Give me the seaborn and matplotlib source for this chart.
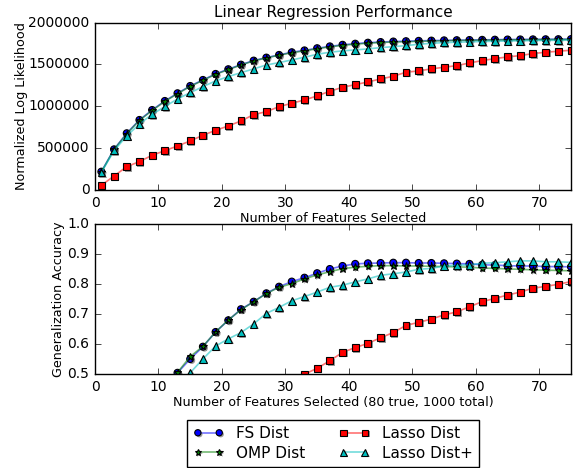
import matplotlib
matplotlib.use("Agg")
import matplotlib.pyplot as plt
import matplotlib.patheffects as pe
from matplotlib.legend_handler import HandlerTuple
import seaborn as sns

plt.style.use("classic")
plt.rcParams["axes.formatter.limits"] = (-9, 9)
plt.rcParams["font.family"] = ["DejaVu Sans"]

n_features = [1, 3, 5, 7, 9, 11, 13, 15, 17, 19, 21, 23, 25, 27, 29, 31, 33, 35, 37,
              39, 41, 43, 45, 47, 49, 51, 53, 55, 57, 59, 61, 63, 65, 67, 69, 71, 73, 75]

# Normalized log likelihood (top panel)
fs_ll = [219e3, 486e3, 678e3, 837e3, 956e3, 1064e3, 1156e3, 1243e3, 1315e3, 1387e3,
         1443e3, 1498e3, 1546e3, 1582e3, 1614e3, 1646e3, 1668e3, 1694e3, 1716e3, 1735e3,
         1748e3, 1760e3, 1768e3, 1774e3, 1778e3, 1782e3, 1785e3, 1788e3, 1790e3, 1792e3,
         1794e3, 1796e3, 1798e3, 1799e3, 1800e3, 1801e3, 1802e3, 1803e3]
omp_ll = [215e3, 484e3, 672e3, 832e3, 950e3, 1058e3, 1150e3, 1238e3, 1310e3, 1382e3,
          1438e3, 1494e3, 1542e3, 1578e3, 1610e3, 1640e3, 1662e3, 1688e3, 1710e3, 1729e3,
          1742e3, 1754e3, 1762e3, 1768e3, 1772e3, 1776e3, 1780e3, 1783e3, 1786e3, 1788e3,
          1790e3, 1792e3, 1794e3, 1795e3, 1796e3, 1797e3, 1798e3, 1799e3]
lasso_ll = [56e3, 167e3, 279e3, 339e3, 415e3, 470e3, 526e3, 586e3, 654e3, 713e3,
            765e3, 825e3, 901e3, 936e3, 996e3, 1036e3, 1076e3, 1124e3, 1180e3, 1227e3,
            1259e3, 1291e3, 1327e3, 1359e3, 1407e3, 1423e3, 1447e3, 1467e3, 1486e3, 1518e3,
            1546e3, 1570e3, 1590e3, 1606e3, 1630e3, 1646e3, 1658e3, 1670e3]
lassop_ll = [210e3, 470e3, 646e3, 789e3, 905e3, 996e3, 1088e3, 1163e3, 1235e3, 1303e3,
             1355e3, 1402e3, 1447e3, 1494e3, 1522e3, 1554e3, 1586e3, 1622e3, 1646e3, 1662e3,
             1674e3, 1686e3, 1701e3, 1713e3, 1725e3, 1741e3, 1753e3, 1761e3, 1765e3, 1770e3,
             1774e3, 1777e3, 1780e3, 1783e3, 1785e3, 1787e3, 1789e3, 1790e3]

# Generalization accuracy (bottom panel)
fs_acc = [0.25, 0.30, 0.35, 0.39, 0.43, 0.47, 0.504, 0.55, 0.591, 0.64,
          0.679, 0.716, 0.741, 0.769, 0.791, 0.808, 0.821, 0.836, 0.85, 0.86,
          0.867, 0.869, 0.87, 0.871, 0.871, 0.87, 0.87, 0.869, 0.868, 0.867,
          0.864, 0.863, 0.861, 0.86, 0.86, 0.858, 0.858, 0.857]
omp_acc = [0.25, 0.30, 0.35, 0.39, 0.43, 0.47, 0.505, 0.558, 0.592, 0.64,
           0.68, 0.714, 0.741, 0.768, 0.789, 0.801, 0.817, 0.83, 0.841, 0.851,
           0.856, 0.859, 0.861, 0.861, 0.86, 0.86, 0.859, 0.858, 0.857, 0.856,
           0.853, 0.852, 0.85, 0.849, 0.847, 0.846, 0.845, 0.844]
lasso_acc = [0.10, 0.13, 0.15, 0.17, 0.19, 0.22, 0.24, 0.27, 0.29, 0.32,
             0.35, 0.37, 0.40, 0.43, 0.45, 0.475, 0.499, 0.519, 0.544, 0.572,
             0.588, 0.602, 0.621, 0.638, 0.662, 0.672, 0.683, 0.697, 0.707, 0.724,
             0.741, 0.752, 0.763, 0.773, 0.786, 0.792, 0.799, 0.808]
lassop_acc = [0.20, 0.26, 0.31, 0.36, 0.40, 0.43, 0.47, 0.504, 0.55, 0.593,
              0.617, 0.638, 0.667, 0.702, 0.722, 0.744, 0.758, 0.773, 0.789, 0.796,
              0.807, 0.817, 0.829, 0.834, 0.84, 0.849, 0.852, 0.86, 0.862, 0.864,
              0.869, 0.871, 0.874, 0.877, 0.877, 0.874, 0.874, 0.872]

labels = ["FS Dist", "OMP Dist", "Lasso Dist", "Lasso Dist+"]
colors = [(0, 0, 1), (0, 0.5, 0), (1, 0, 0), (0, 0.75, 0.75)]
markers = ["o", "*", "s", "^"]
msizes = [5, 5.5, 5, 5.5]

fig = plt.figure(figsize=(5.8, 4.68), dpi=100, facecolor="white")
ax1 = fig.add_axes([0.1638, 0.594, 0.8207, 0.3577])
ax2 = fig.add_axes([0.1638, 0.2009, 0.8207, 0.3205])

shadow = [pe.SimplePatchShadow(offset=(1.1, -1.1), shadow_rgbFace=(0.4, 0.4, 0.4), alpha=0.65),
          pe.Normal()]


def draw(ax, series):
    handles = []
    for ys, col, mk, ms in zip(series, colors, markers, msizes):
        sns.lineplot(x=n_features, y=ys, ax=ax, color=col + (0.55,), lw=1.2,
                     estimator=None, sort=False)
        ln = ax.lines[-1]
        sns.lineplot(x=n_features, y=ys, ax=ax, color=col, linestyle="none",
                     marker=mk, markersize=ms, markerfacecolor=col,
                     markeredgecolor="k", markeredgewidth=0.8,
                     estimator=None, sort=False)
        mkline = ax.lines[-1]
        mkline.set_path_effects(shadow)
        handles.append((ln, mkline))
    return handles


draw(ax1, [fs_ll, omp_ll, lasso_ll, lassop_ll])
handles = draw(ax2, [fs_acc, omp_acc, lasso_acc, lassop_acc])

ax1.set_xlim(0, 75)
ax1.set_ylim(0, 2000000)
ax1.set_yticks([0, 500000, 1000000, 1500000, 2000000])
ax1.set_xticks([0, 10, 20, 30, 40, 50, 60, 70])
ax1.set_title("Linear Regression Performance", fontsize=11, pad=4)
ax1.set_xlabel("Number of Features Selected", fontsize=9.2, labelpad=2)
ax1.set_ylabel("Normalized Log Likelihood", fontsize=9.2, labelpad=0)

ax2.set_xlim(0, 75)
ax2.set_ylim(0.5, 1.0)
ax2.set_yticks([0.5, 0.6, 0.7, 0.8, 0.9, 1.0])
ax2.set_xticks([0, 10, 20, 30, 40, 50, 60, 70])
ax2.set_xlabel("Number of Features Selected (80 true, 1000 total)", fontsize=9.2, labelpad=2)
ax2.set_ylabel("Generalization Accuracy", fontsize=9.2, labelpad=1.5)

for ax in (ax1, ax2):
    ax.tick_params(labelsize=10, direction="in", top=True, right=True)

leg = fig.legend(handles=handles, labels=labels, ncol=2, loc="upper center",
                 bbox_to_anchor=(0.574, 0.1026), fontsize=11, numpoints=2,
                 handler_map={tuple: HandlerTuple(ndivide=1)},
                 frameon=True, fancybox=False, borderaxespad=0, markerscale=0.9,
                 handlelength=2.0, columnspacing=2.2, labelspacing=0.3)
leg.get_frame().set_edgecolor("black")

fig.savefig("out.png", dpi=100, facecolor="white")
